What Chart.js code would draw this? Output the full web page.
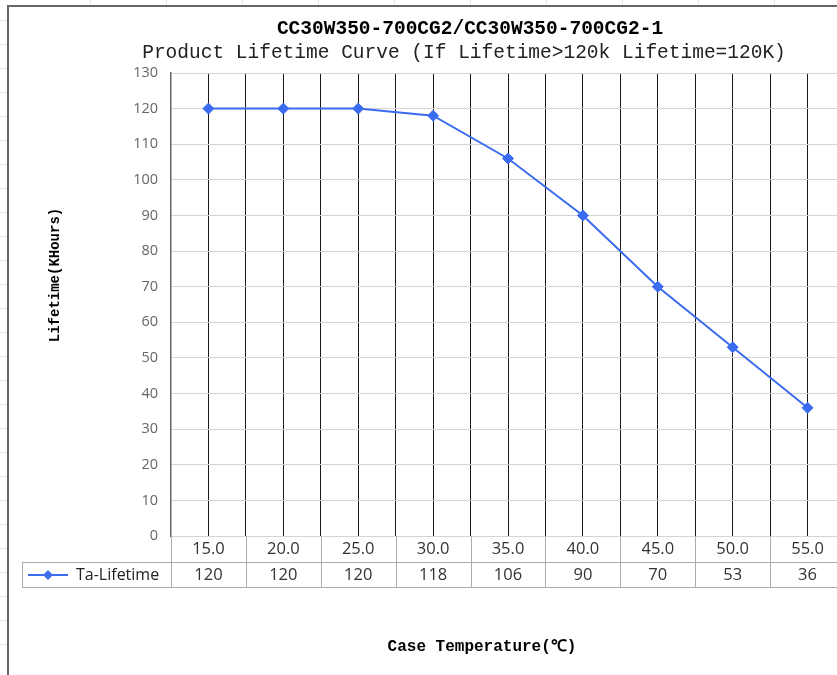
<!DOCTYPE html>
<html>
<head>
<meta charset="utf-8">
<script src="https://cdn.jsdelivr.net/npm/chart.js@4.4.0/dist/chart.umd.min.js"></script>
<style>
  html, body { margin: 0; padding: 0; background: #fff; overflow: hidden; width: 837px; height: 675px; }
  #sheetTop { position: absolute; left: 7px; top: 0; width: 830px; height: 5px;
    background: repeating-linear-gradient(90deg, transparent 0, transparent 75px, #e2e2e2 75px, #e2e2e2 76px);
    background-position: 8px 0; }
  #sheetLeft { position: absolute; left: 0; top: 5px; width: 7px; height: 670px;
    background: repeating-linear-gradient(180deg, transparent 0, transparent 23px, #e2e2e2 23px, #e2e2e2 24px);
    background-position: 0 -8px; }
  #frame { position: absolute; left: 7px; top: 5px; width: 900px; height: 700px;
    border-left: 2px solid #666; border-top: 2px solid #666; }
  #wrap { position: absolute; left: 0; top: 0; width: 880px; height: 675px; }
</style>
</head>
<body>
<div id="sheetTop"></div>
<div id="sheetLeft"></div>
<div id="frame"></div>
<div id="wrap"><canvas id="lifeChart" width="880" height="675"></canvas></div>
<script>
// Lifetime vs. case temperature
const chartTitle = 'CC30W350-700CG2/CC30W350-700CG2-1';
const chartSubtitle = 'Product Lifetime Curve (If Lifetime>120k Lifetime=120K)';
const xTitle = 'Case Temperature(℃)';
const yTitle = 'Lifetime(KHours)';
const seriesName = 'Ta-Lifetime';

const temperatures = [15, 20, 25, 30, 35, 40, 45, 50, 55];
const tempLabels = ['15.0', '20.0', '25.0', '30.0', '35.0', '40.0', '45.0', '50.0', '55.0'];
const lifetimes = [120, 120, 120, 118, 106, 90, 70, 53, 36];
const yMin = 0, yMax = 130, yStep = 10;

const LINE_BLUE = '#3b6cf0';
const MONO = '"Liberation Mono", "DejaVu Sans Mono", monospace';
const SANS = '"Open Sans", "Noto Sans", sans-serif';

const half = v => Math.round(v) + 0.5;

const textPlugin = {
  id: 'titles',
  afterDraw(chart) {
    const ctx = chart.ctx;
    ctx.save();
    ctx.textAlign = 'center';
    ctx.textBaseline = 'middle';
    ctx.fillStyle = '#000';
    ctx.font = 'bold 19.5px ' + MONO;
    ctx.fillText(chartTitle, 470, 29);
    ctx.fillStyle = '#222';
    ctx.font = '19.5px ' + MONO;
    ctx.fillText(chartSubtitle, 464, 53);
    ctx.fillStyle = '#000';
    ctx.font = 'bold 16px ' + MONO;
    ctx.fillText(xTitle, 482, 647);
    ctx.translate(55, 275);
    ctx.rotate(-Math.PI / 2);
    ctx.font = 'bold 14px ' + MONO;
    ctx.fillText(yTitle, 0, 0);
    ctx.restore();
  }
};

const tablePlugin = {
  id: 'dataTable',
  afterDraw(chart) {
    const { ctx, chartArea: a, scales: { x } } = chart;
    const r1 = a.bottom, r2 = a.bottom + 26, r3 = a.bottom + 51;
    const legendLeft = 22;
    const rightEdge = x.getPixelForValue(temperatures[temperatures.length - 1] + 2.5);
    ctx.save();
    ctx.strokeStyle = '#ababab';
    ctx.lineWidth = 1;
    ctx.beginPath();
    ctx.moveTo(legendLeft, half(r2)); ctx.lineTo(rightEdge, half(r2));
    ctx.moveTo(legendLeft, half(r3)); ctx.lineTo(rightEdge, half(r3));
    ctx.moveTo(half(legendLeft), r2); ctx.lineTo(half(legendLeft), r3);
    temperatures.forEach(t => {
      const bx = half(x.getPixelForValue(t - 2.5));
      ctx.moveTo(bx, r1); ctx.lineTo(bx, r3);
    });
    ctx.moveTo(half(rightEdge), r1); ctx.lineTo(half(rightEdge), r3);
    ctx.stroke();

    ctx.fillStyle = '#333';
    ctx.font = '16.5px ' + SANS;
    ctx.textAlign = 'center';
    ctx.textBaseline = 'middle';
    temperatures.forEach((t, i) => {
      const cx = x.getPixelForValue(t);
      ctx.fillText(tempLabels[i], cx, r1 + 13);
      ctx.fillText(String(lifetimes[i]), cx, r2 + 13);
    });

    // legend key in the first cell
    const ly = r2 + 13;
    ctx.strokeStyle = LINE_BLUE;
    ctx.lineWidth = 2;
    ctx.beginPath();
    ctx.moveTo(28, ly); ctx.lineTo(68, ly);
    ctx.stroke();
    ctx.fillStyle = LINE_BLUE;
    ctx.beginPath();
    ctx.moveTo(48, ly - 5); ctx.lineTo(53, ly); ctx.lineTo(48, ly + 5); ctx.lineTo(43, ly);
    ctx.closePath();
    ctx.fill();
    ctx.fillStyle = '#222';
    ctx.textAlign = 'left';
    ctx.font = '16px ' + SANS;
    ctx.fillText(seriesName, 76, ly);
    ctx.restore();
  }
};

new Chart(document.getElementById('lifeChart'), {
  type: 'line',
  data: {
    datasets: [{
      label: seriesName,
      data: temperatures.map((t, i) => ({ x: t, y: lifetimes[i] })),
      borderColor: LINE_BLUE,
      backgroundColor: LINE_BLUE,
      borderWidth: 2,
      tension: 0,
      pointStyle: 'rectRot',
      pointRadius: 5.5,
      pointHoverRadius: 5.5,
      pointBorderWidth: 1,
    }]
  },
  options: {
    responsive: false,
    animation: false,
    devicePixelRatio: 1,
    layout: { padding: { top: 73, right: 35, bottom: 139, left: 0 } },
    plugins: {
      legend: { display: false },
      title: { display: false },
      tooltip: { enabled: false }
    },
    scales: {
      x: {
        type: 'linear',
        min: 12.5,
        max: 57.5,
        ticks: { stepSize: 2.5, maxTicksLimit: 100, display: false },
        grid: {
          drawTicks: false,
          color: c => (c.tick && c.tick.value === 12.5) ? 'rgba(0,0,0,0)' : '#1a1a1a',
          lineWidth: 1
        },
        border: { display: false },
        afterFit: s => { s.height = 0; }
      },
      y: {
        min: yMin,
        max: yMax,
        ticks: { stepSize: yStep, color: '#666', padding: 13, font: { family: 'Open Sans', size: 14.5 } },
        grid: { color: '#d4d4d4', drawTicks: false },
        border: { color: '#666', width: 1.5 },
        afterFit: s => { s.width = 171; }
      }
    }
  },
  plugins: [textPlugin, tablePlugin]
});
</script>
</body>
</html>
